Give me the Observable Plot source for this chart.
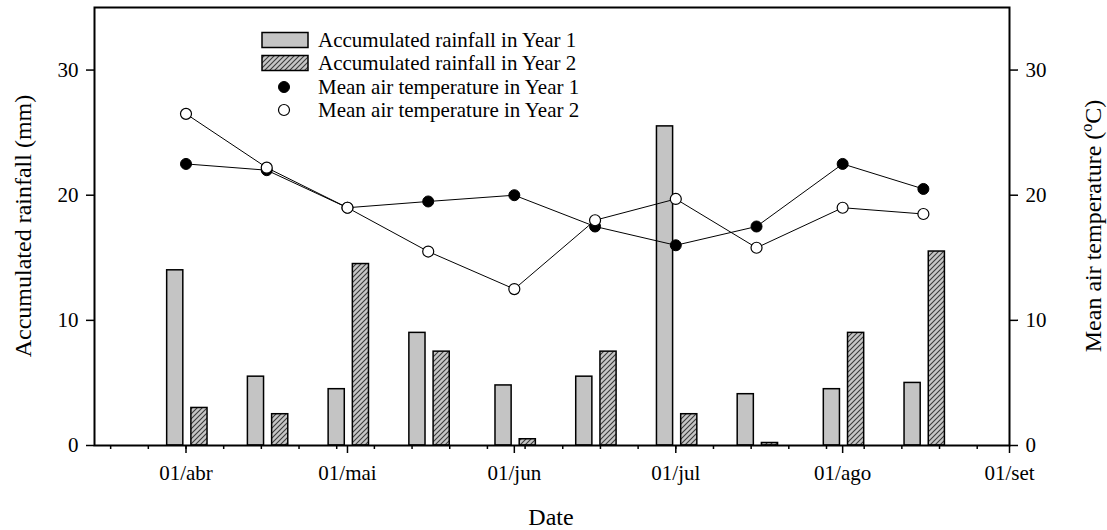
<!DOCTYPE html>
<html><head><meta charset="utf-8">
<script src="https://cdn.jsdelivr.net/npm/d3@7"></script>
<script src="https://cdn.jsdelivr.net/npm/@observablehq/plot@0.6"></script>
<style>body{margin:0;background:#fff;}</style>
</head><body>
<svg width="0" height="0" style="position:absolute">
<defs><pattern id="hatch" patternUnits="userSpaceOnUse" width="5" height="5">
<rect width="5" height="5" fill="#c6c6c6"/>
<path d="M-1,1 l2,-2 M0,5 l5,-5 M4,6 l2,-2" stroke="#3a3a3a" stroke-width="1.1"/>
</pattern></defs></svg>
<div id="chart"></div>
<script>
const dates = ["2001-04-01","2001-04-16","2001-05-01","2001-05-16","2001-06-01","2001-06-16","2001-07-01","2001-07-16","2001-08-01","2001-08-16"];
const rainYear1 = [14, 5.5, 4.5, 9, 4.8, 5.5, 25.5, 4.1, 4.5, 5];
const rainYear2 = [3, 2.5, 14.5, 7.5, 0.5, 7.5, 2.5, 0.2, 9, 15.5];
const tempYear1 = [22.5, 22, 19, 19.5, 20, 17.5, 16, 17.5, 22.5, 20.5];
const tempYear2 = [26.5, 22.2, 19, 15.5, 12.5, 18, 19.7, 15.8, 19, 18.5];
const monthTicks = ["2001-04-01","2001-05-01","2001-06-01","2001-07-01","2001-08-01","2001-09-01"];
const monthLabels = ["01/abr","01/mai","01/jun","01/jul","01/ago","01/set"];
const yTicks = [0, 10, 20, 30];
const xRange = ["2001-03-15", "2001-09-01"];
const legendLabels = ["Accumulated rainfall in Year 1","Accumulated rainfall in Year 2","Mean air temperature in Year 1","Mean air temperature in Year 2"];

const parse = d3.utcParse("%Y-%m-%d");
const D = dates.map(parse);
const rows = D.map((d, i) => ({date: d, r1: rainYear1[i], r2: rainYear2[i], t1: tempYear1[i], t2: tempYear2[i]}));
const day = 864e5;
const M = monthTicks.map(parse);
const domain = xRange.map(parse);
const weekly = d3.utcSunday.range(domain[0], domain[1]);
const shift = (d, k) => new Date(+d + k * day);

const plot = Plot.plot({
  width: 1107, height: 530,
  marginLeft: 94, marginRight: 98, marginTop: 7, marginBottom: 85,
  style: {fontFamily: "'Liberation Serif', 'Times New Roman', serif", fontSize: "21px", color: "#000", background: "#fff"},
  x: {type: "utc", domain},
  y: {domain: [0, 35]},
  marks: [
    Plot.rectY(rows, {x1: d => shift(d.date, -3.5), x2: d => shift(d.date, -0.5), y1: 0, y2: "r1", fill: "#c4c4c4", stroke: "#000", strokeWidth: 1.5}),
    Plot.rectY(rows, {x1: d => shift(d.date, 1), x2: d => shift(d.date, 4), y1: 0, y2: "r2", fill: "url(#hatch)", stroke: "#000", strokeWidth: 1.5}),
    Plot.line(rows, {x: "date", y: "t1", stroke: "#000", strokeWidth: 1}),
    Plot.line(rows, {x: "date", y: "t2", stroke: "#000", strokeWidth: 1}),
    Plot.dot(rows, {x: "date", y: "t1", r: 5.5, fill: "#000", stroke: "#000", strokeWidth: 1}),
    Plot.dot(rows, {x: "date", y: "t2", r: 5.5, fill: "#fff", stroke: "#000", strokeWidth: 1.2}),
    Plot.frame({stroke: "#000", strokeWidth: 2}),
    Plot.axisX({ticks: weekly, tickSize: 4, strokeWidth: 1.5, tickFormat: () => "", label: null}),
    Plot.axisX({ticks: M, tickSize: 8, tickPadding: 12, strokeWidth: 1.5, label: null,
      tickFormat: d => monthLabels[M.findIndex(m => +m === +d)]}),
    Plot.axisY({ticks: yTicks, anchor: "left", tickSize: 8, tickPadding: 8, strokeWidth: 1.5, label: null}),
    Plot.axisY({ticks: yTicks, anchor: "right", tickSize: 8, tickPadding: 8, strokeWidth: 1.5, label: null})
  ]
});
document.getElementById("chart").append(plot);

const svg = d3.select(plot);
const ff = "'Liberation Serif', 'Times New Roman', serif";
svg.append("text").attr("transform", "translate(31,226) rotate(-90)").attr("text-anchor", "middle")
  .attr("font-family", ff).attr("font-size", 24).attr("fill", "#000").text("Accumulated rainfall (mm)");
const rt = svg.append("text").attr("transform", "translate(1101,226) rotate(-90)").attr("text-anchor", "middle")
  .attr("font-family", ff).attr("font-size", 24).attr("fill", "#000");
rt.append("tspan").text("Mean air temperature (");
rt.append("tspan").attr("dy", -9).attr("font-size", 16).text("o");
rt.append("tspan").attr("dy", 9).text("C)");
svg.append("text").attr("x", 551).attr("y", 525).attr("text-anchor", "middle")
  .attr("font-family", ff).attr("font-size", 24).attr("fill", "#000").text("Date");

const lg = svg.append("g").attr("font-family", ff).attr("font-size", 21).attr("fill", "#000").attr("text-anchor", "start");
const rowY = [40, 63, 87, 110];
lg.append("rect").attr("x", 262).attr("y", rowY[0] - 7.5).attr("width", 46).attr("height", 15).attr("fill", "#c4c4c4").attr("stroke", "#000").attr("stroke-width", 1.5);
lg.append("rect").attr("x", 262).attr("y", rowY[1] - 7.5).attr("width", 46).attr("height", 15).attr("fill", "url(#hatch)").attr("stroke", "#000").attr("stroke-width", 1.5);
lg.append("circle").attr("cx", 284).attr("cy", rowY[2]).attr("r", 5.5).attr("fill", "#000").attr("stroke", "#000");
lg.append("circle").attr("cx", 284).attr("cy", rowY[3]).attr("r", 5.5).attr("fill", "#fff").attr("stroke", "#000").attr("stroke-width", 1.2);
legendLabels.forEach((t, i) => {
  lg.append("text").attr("x", 318).attr("y", rowY[i] + 7).attr("text-anchor", "start").text(t);
});
</script>
</body></html>
